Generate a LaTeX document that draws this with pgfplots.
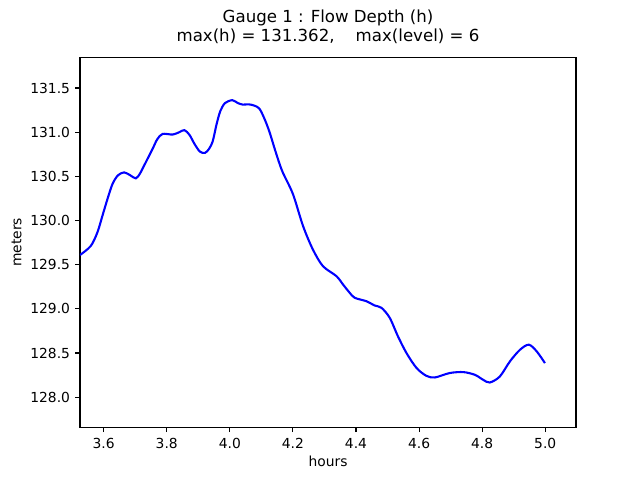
\documentclass[border=0pt]{standalone}
\usepackage{pgfplots}
\pgfplotsset{compat=1.18}
\usepackage{fontspec}
\setmainfont{DejaVu Sans}
\begin{document}
\begin{tikzpicture}
\begin{axis}[
  scale only axis,
  width=357.12bp, height=266.11bp,
  xmin=3.525, xmax=5.0975,
  ymin=127.66, ymax=131.844,
  xtick={3.6,3.8,4.0,4.2,4.4,4.6,4.8,5.0},
  ytick={128.0,128.5,129.0,129.5,130.0,130.5,131.0,131.5},
  xtick pos=bottom, ytick pos=left,
  tick align=outside,
  major tick length=3.5bp,
  every tick/.style={line width=0.8bp, black},
  axis line style={line width=0.8bp},
  /pgf/number format/assume math mode=true,
  /pgf/number format/.cd, fixed, fixed zerofill, precision=1, /pgfplots/.cd,
  ticklabel style={font=\fontsize{10}{12}\selectfont},
  xticklabel style={inner sep=0pt, anchor=north, yshift=-4.5bp},
  yticklabel style={inner sep=0pt, anchor=east, xshift=-3.5bp},
  xlabel={hours},
  ylabel={meters},
  label style={font=\fontsize{10}{12}\selectfont},
  xlabel style={at={(axis description cs:0.5,0)}, anchor=base, yshift=-28.1bp, inner sep=0pt},
  ylabel style={at={(axis description cs:-0.1184,0.5)}, anchor=base, rotate=0, inner sep=0pt},
  title={Gauge 1 : Flow Depth (h)\\max(h) = 131.362,\ \ \ \ max(level) = 6},
  title style={at={(axis description cs:0.5,1)}, anchor=south, align=center, inner sep=0pt, yshift=4.2bp, font=\fontsize{12}{13.5}\selectfont},
]
\coordinate (sw) at (rel axis cs:0,0);
\addplot[blue, line width=1.5bp, smooth] table {
3.525 129.609
3.559 129.711
3.580 129.864
3.596 130.052
3.612 130.242
3.628 130.413
3.645 130.51
3.665 130.545
3.685 130.51
3.702 130.477
3.715 130.53
3.728 130.62
3.755 130.81
3.770 130.92
3.787 130.98
3.819 130.973
3.840 131.00
3.856 131.023
3.872 130.97
3.888 130.867
3.905 130.78
3.921 130.765
3.934 130.81
3.946 130.90
3.958 131.09
3.970 131.24
3.985 131.33
4.008 131.362
4.025 131.33
4.041 131.312
4.060 131.315
4.078 131.30
4.094 131.265
4.110 131.15
4.126 131.0
4.145 130.78
4.166 130.56
4.200 130.30
4.232 129.939
4.263 129.674
4.295 129.484
4.338 129.37
4.360 129.27
4.380 129.182
4.396 129.125
4.433 129.086
4.459 129.038
4.481 129.011
4.507 128.898
4.533 128.689
4.560 128.5
4.592 128.33
4.623 128.242
4.650 128.223
4.697 128.273
4.740 128.284
4.777 128.253
4.803 128.197
4.824 128.166
4.856 128.234
4.888 128.405
4.920 128.537
4.948 128.594
4.973 128.518
4.999 128.386
};
\end{axis}
\pgfresetboundingbox
\path[use as bounding box] (sw) ++(-57.6bp,-38.016bp) rectangle ++(460.8bp,345.6bp);
\end{tikzpicture}
\end{document}
